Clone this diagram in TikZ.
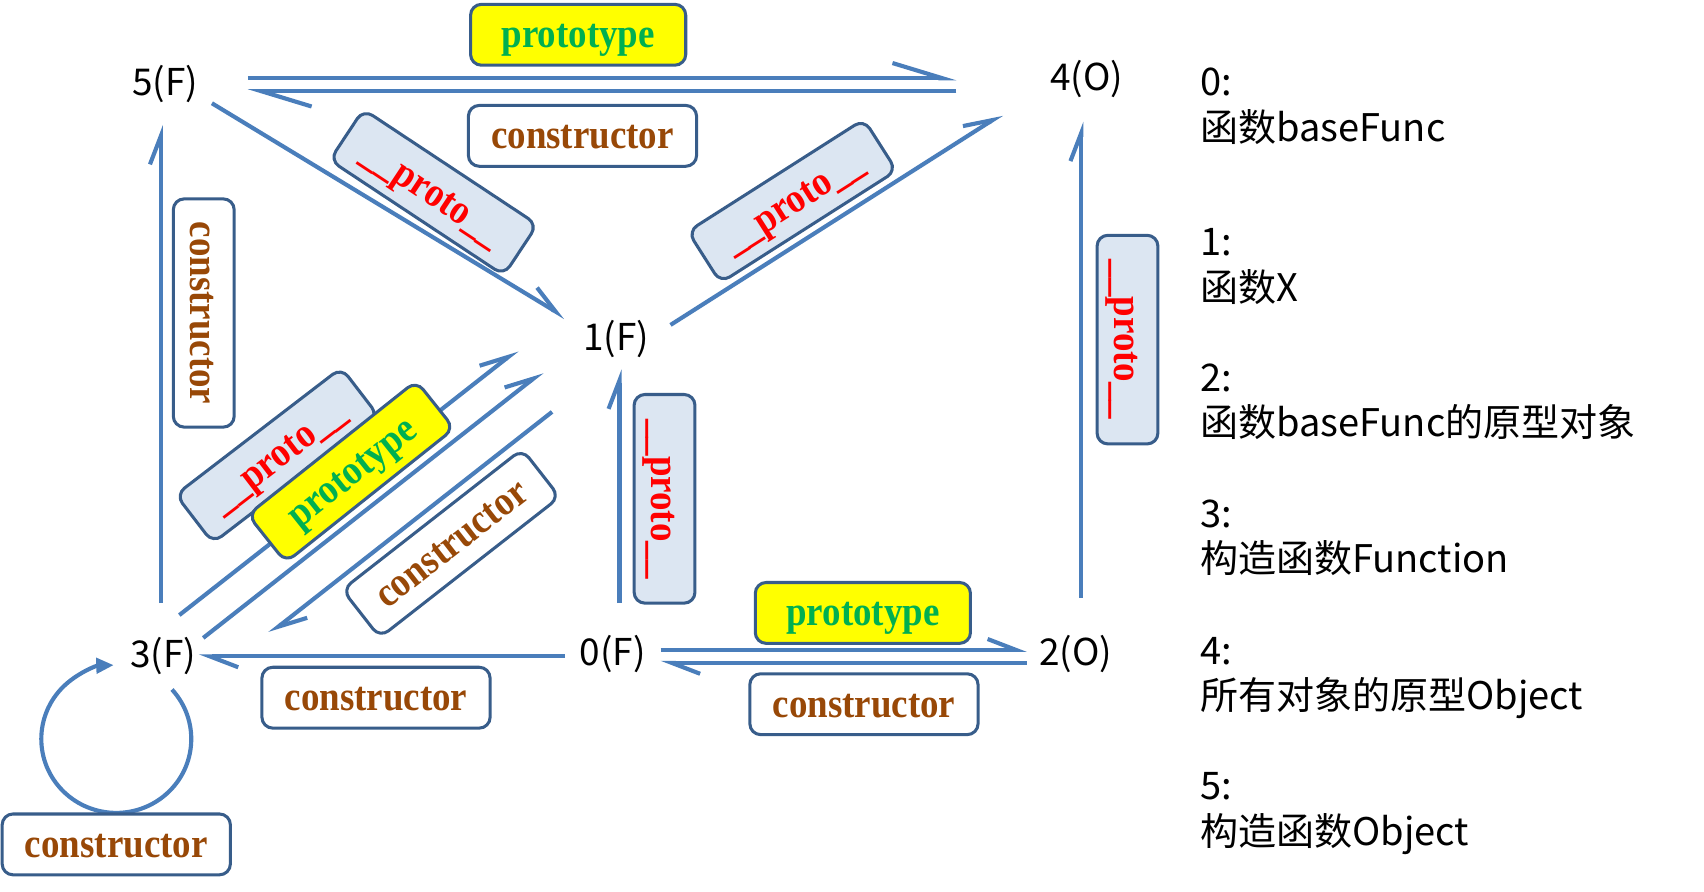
\documentclass[tikz,border=0pt]{standalone}
\usepackage{fontspec}
\usepackage{graphicx}
\setmainfont{Liberation Serif}
\newfontfamily\cjk{Noto Sans CJK SC}
\usetikzlibrary{arrows.meta,calc}
\definecolor{lc}{HTML}{4A7EBB}
\definecolor{boxc}{HTML}{385D8A}
\definecolor{lblue}{HTML}{DCE6F2}
\definecolor{tgreen}{HTML}{00B050}
\definecolor{tbrown}{HTML}{984807}
\definecolor{tred}{HTML}{FF0000}
\definecolor{yel}{HTML}{FFFF00}
\newcommand{\vst}[1]{\scalebox{1}[1.12]{#1}}
\tikzset{
  lbl/.style={draw=boxc, line width=1.4pt, rounded corners=5pt, inner sep=0pt,
    minimum height=28pt, text height=17pt, text depth=5pt,
    font=\fontsize{17}{17}\selectfont\bfseries},
  protobox/.style={lbl, fill=lblue, text=tred, minimum width=96pt},
  ptypebox/.style={lbl, fill=yel, text=tgreen, minimum width=99pt},
  ctorbox/.style={lbl, fill=white, text=tbrown, minimum width=105pt},
  conn/.style={draw=lc, line width=1.9pt},
  harp/.style={-{Straight Barb[left,length=13pt,width=10pt]}},
  harplong/.style={-{Straight Barb[left,length=23pt,width=14pt]}},
  nl/.style={font=\cjk\fontsize{17}{20}\selectfont, inner sep=0pt},
  lg/.style={font=\cjk\fontsize{17.5}{21}\selectfont, inner sep=0pt, anchor=base west},
}
\begin{document}
\begin{tikzpicture}[x=0.5pt,y=-0.5pt]
\useasboundingbox (0,0) rectangle (1568,820);

% object labels
\node[nl] (n5) at (152,77) {5(F)};
\node[nl] (n4) at (1000,73) {4(O)};
\node[nl] (n1) at (567,312) {1(F)};
\node[nl] (n3) at (150,604) {3(F)};
\node[nl] (n0) at (564,602) {0(F)};
\node[nl] (n2) at (990,602) {2(O)};

% connector end points
\coordinate (a54s) at (228,72);  \coordinate (a54e) at (880,72);
\coordinate (a45s) at (880,84);  \coordinate (a45e) at (228,84);
\coordinate (a51s) at (195,95);  \coordinate (a51e) at (520,292);
\coordinate (a14s) at (617,299); \coordinate (a14e) at (922,105);
\coordinate (a35s) at (148,555); \coordinate (a35e) at (148,115);
\coordinate (a01s) at (570,555); \coordinate (a01e) at (570,340);
\coordinate (a24s) at (995,550); \coordinate (a24e) at (995,112);
\coordinate (a03s) at (520,604); \coordinate (a03e) at (183,604);
\coordinate (a02s) at (608,598); \coordinate (a02e) at (945,598);
\coordinate (a20s) at (945,610); \coordinate (a20e) at (608,610);
\coordinate (a31s) at (165,566); \coordinate (a31e) at (476,322);
\coordinate (b31s) at (187,587); \coordinate (b31e) at (499,342);
\coordinate (a13s) at (508,379); \coordinate (a13e) at (248,583);
\coordinate (loopc) at (107,680);

\draw[conn,harplong] (a54s) -- (a54e);
\draw[conn,harplong] (a45s) -- (a45e);
\draw[conn,harp] (a51s) -- (a51e);
\draw[conn,harp] (a14s) -- (a14e);
\draw[conn,harp] (a35s) -- (a35e);
\draw[conn,harp] (a01s) -- (a01e);
\draw[conn,harp] (a24s) -- (a24e);
\draw[conn,harp] (a03s) -- (a03e);
\draw[conn,harp] (a02s) -- (a02e);
\draw[conn,harp] (a20s) -- (a20e);
\draw[conn,harp] (a31s) -- (a31e);
\draw[conn,harp] (b31s) -- (b31e);
\draw[conn,harp] (a13s) -- (a13e);
\draw[conn,-{Triangle[length=8pt,width=7pt]}] ($(loopc)+(-42:69 and 68)$)
  arc[start angle=-42, end angle=268, x radius=69, y radius=68];

% label boxes
\node[ptypebox] (b1) at (532,32) {\vst{prototype}};
\node[ctorbox] (b2) at (536,125) {\vst{constructor}};
\node[ctorbox, rotate=-90] (b3) at (187.5,288) {\vst{constructor}};
\node[protobox, rotate=-33.5] (b4) at (399,177) {\vst{\_\_proto\_\_}};
\node[protobox, rotate=32.5] (b5) at (729,185) {\vst{\_\_proto\_\_}};
\node[protobox, rotate=-90] (b6) at (611.5,459) {\vst{\_\_proto\_\_}};
\node[protobox, rotate=-90] (b7) at (1037.5,312.5) {\vst{\_\_proto\_\_}};
\node[protobox, rotate=37.5] (b8) at (255,419) {\vst{\_\_proto\_\_}};
\node[ptypebox, rotate=38.5] (b9) at (323,434) {\vst{prototype}};
\node[ctorbox, rotate=38] (b10) at (415,500) {\vst{constructor}};
\node[ctorbox] (b11) at (346,642) {\vst{constructor}};
\node[ptypebox] (b12) at (794,564) {\vst{prototype}};
\node[ctorbox] (b13) at (795,648) {\vst{constructor}};
\node[ctorbox] (b14) at (107,777) {\vst{constructor}};

% legend
\node[lg] (l0a) at (1104,88) {0:};
\node[lg] (l0b) at (1104,130) {函数baseFunc};
\node[lg] (l1a) at (1104,235) {1:};
\node[lg] (l1b) at (1104,277) {函数X};
\node[lg] (l2a) at (1104,360) {2:};
\node[lg] (l2b) at (1104,402) {函数baseFunc的原型对象};
\node[lg] (l3a) at (1104,485) {3:};
\node[lg] (l3b) at (1104,527) {构造函数Function};
\node[lg] (l4a) at (1104,611) {4:};
\node[lg] (l4b) at (1104,653) {所有对象的原型Object};
\node[lg] (l5a) at (1104,736) {5:};
\node[lg] (l5b) at (1104,778) {构造函数Object};
\end{tikzpicture}
\end{document}
